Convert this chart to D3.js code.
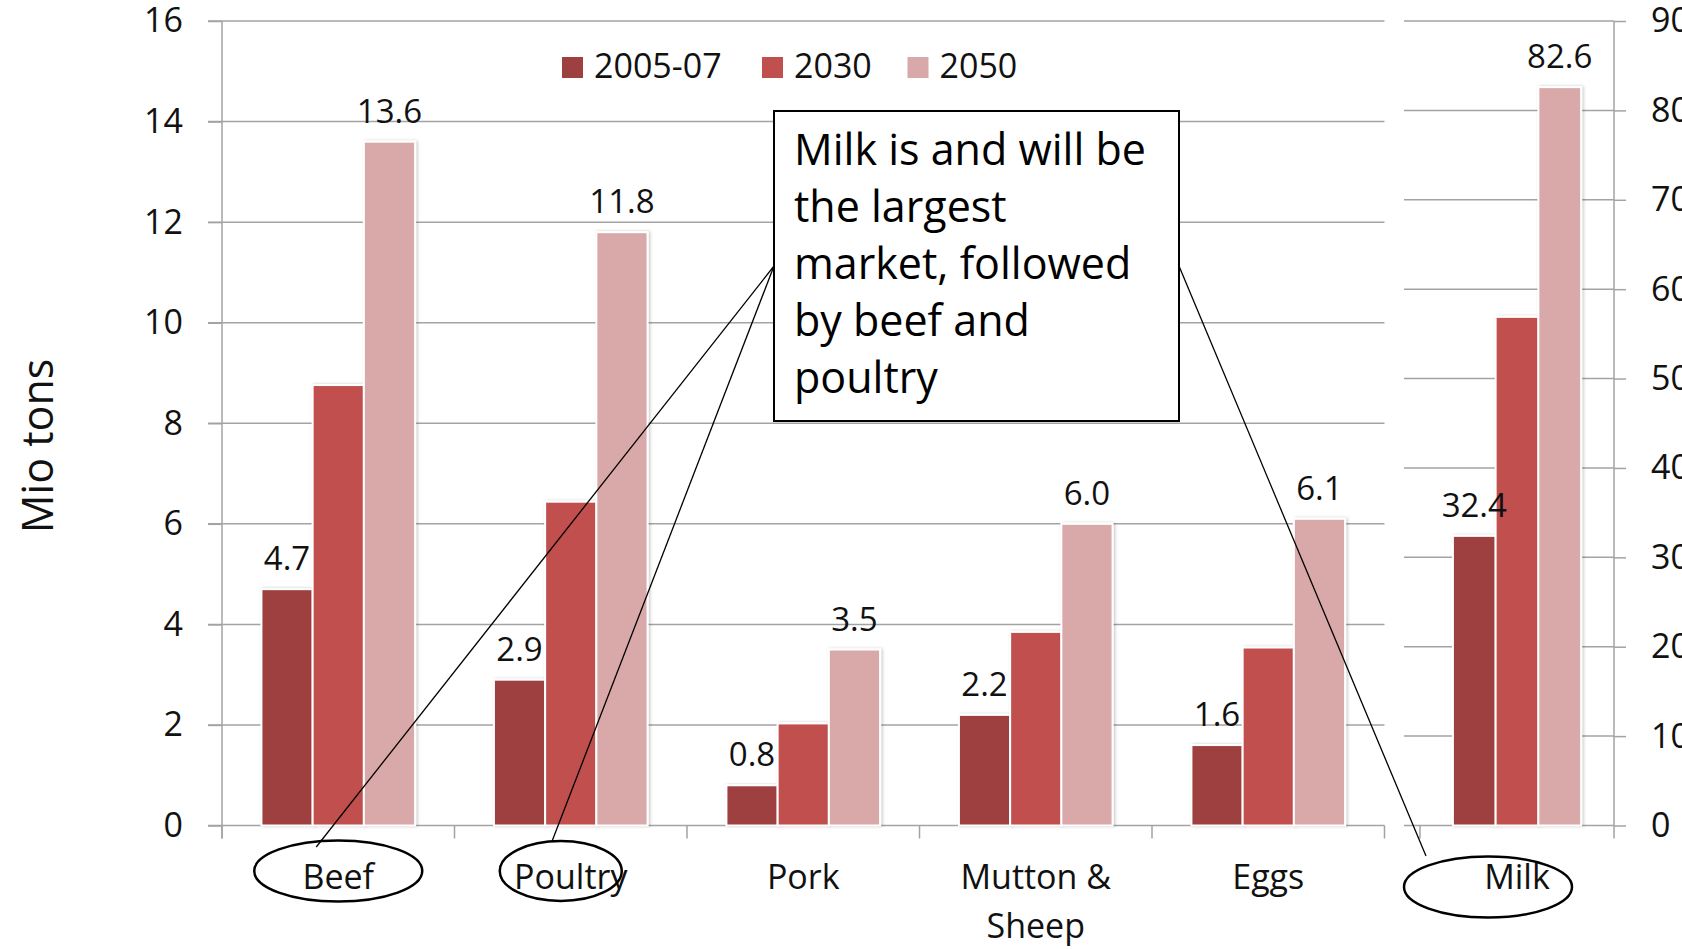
<!DOCTYPE html>
<html>
<head>
<meta charset="utf-8">
<script src="https://cdn.jsdelivr.net/npm/d3@7"></script>
<style>
  html, body { margin: 0; padding: 0; background: #fff; }
  svg { display: block; font-family: "Open Sans", sans-serif; }
</style>
</head>
<body>
<svg id="chart" width="1682" height="949"></svg>
<script>
/* Livestock product markets, Mio tons: meat and eggs on the left, milk on the right */

const categories = ["Beef", "Poultry", "Pork", "Mutton & Sheep", "Eggs"];
const categoryLines = [["Beef"], ["Poultry"], ["Pork"], ["Mutton &", "Sheep"], ["Eggs"]];
const milkCategory = ["Milk"];
const series = ["2005-07", "2030", "2050"];
const seriesColors = ["#9e4040", "#c0504d", "#d9a9a9"];

const values0507 = [4.7, 2.9, 0.8, 2.2, 1.6];
const values2030 = [8.76, 6.44, 2.03, 3.85, 3.54];
const values2050 = [13.6, 11.8, 3.5, 6.0, 6.1];
const milkValues = [32.4, 56.9, 82.6];

// only these series carry a value label
const labelledSeries = ["2005-07", "2050"];

const leftTicks = [0, 2, 4, 6, 8, 10, 12, 14, 16];
const rightTicks = [0, 10, 20, 30, 40, 50, 60, 70, 80, 90];

const note = ["Milk is and will be", "the largest", "market, followed", "by beef and", "poultry"];
// categories circled in the picture, with the ellipse shift and size
const circled = [
  {cat: "Beef", dx: 0, rx: 84, ry: 30.5, lineDx: -22, lineDy: -24},
  {cat: "Poultry", dx: -10, rx: 61, ry: 30, lineDx: -9, lineDy: -29},
  {cat: "Milk", dx: -29, rx: 84, ry: 30.5, lineDx: -62, lineDy: -31},
];

function main() {
  const svg = d3.select("#chart");
  const gridColor = "#a3a3a3";
  const base = 825.5;
  const top = 21;

  const y = d3.scaleLinear().domain([0, 16]).range([base, top]);
  const yR = d3.scaleLinear().domain([0, 90]).range([base, top]);

  const x0 = d3.scaleBand().domain(categories).range([222, 1384.5]).padding(0);
  const x0R = d3.scaleBand().domain(milkCategory).range([1420, 1614]).padding(0);
  const x1 = d3.scaleBand().domain(series).range([0, x0.bandwidth()])
    .paddingInner(0).paddingOuter(0.77);
  const x1R = d3.scaleBand().domain(series).range([0, x0R.bandwidth()])
    .paddingInner(0).paddingOuter(0.77);

  const defs = svg.append("defs");
  defs.append("filter").attr("id", "shadow")
    .attr("x", "-20%").attr("y", "-5%").attr("width", "140%").attr("height", "110%")
    .append("feDropShadow")
    .attr("dx", 1.5).attr("dy", 0).attr("stdDeviation", 1.6)
    .attr("flood-color", "#000").attr("flood-opacity", 0.22);

  // gridlines
  svg.append("g").selectAll("line").data(leftTicks).join("line")
    .attr("x1", 208).attr("x2", x0.range()[1])
    .attr("y1", (d) => y(d)).attr("y2", (d) => y(d))
    .attr("stroke", gridColor).attr("stroke-width", 1.5);
  svg.append("g").selectAll("line").data(rightTicks).join("line")
    .attr("x1", 1404).attr("x2", x0R.range()[1])
    .attr("y1", (d) => yR(d)).attr("y2", (d) => yR(d))
    .attr("stroke", gridColor).attr("stroke-width", 1.5);

  // left axis
  svg.append("g")
    .attr("transform", `translate(${x0.range()[0]},0)`)
    .call(d3.axisLeft(y).tickValues(leftTicks).tickSize(14).tickPadding(25))
    .call((g) => g.selectAll("line, path").attr("stroke", gridColor).attr("stroke-width", 1.5))
    .call((g) => g.select(".domain").attr("d", `M0,${top}V${base + 13}`))
    .call((g) => g.selectAll("text").attr("font-size", 34).attr("fill", "#111")
      .attr("font-family", "Open Sans"));

  // right axis
  svg.append("g")
    .attr("transform", `translate(${x0R.range()[1]},0)`)
    .call(d3.axisRight(yR).tickValues(rightTicks).tickSize(12).tickPadding(25))
    .call((g) => g.selectAll("line, path").attr("stroke", gridColor).attr("stroke-width", 1.5))
    .call((g) => g.select(".domain").attr("d", `M0,${top}V${base + 13}`))
    .call((g) => g.selectAll("text").attr("font-size", 34).attr("fill", "#111")
      .attr("font-family", "Open Sans"));

  // category boundary ticks on the bottom
  const boundaries = categories.map((c) => x0(c)).concat([x0.range()[1]]);
  svg.append("g").selectAll("line").data(boundaries).join("line")
    .attr("x1", (d) => d).attr("x2", (d) => d)
    .attr("y1", base).attr("y2", base + 13)
    .attr("stroke", gridColor).attr("stroke-width", 1.5);
  svg.append("line")
    .attr("x1", x0R.range()[0]).attr("x2", x0R.range()[0])
    .attr("y1", base).attr("y2", base + 13)
    .attr("stroke", gridColor).attr("stroke-width", 1.5);

  // bars
  const rows = categories.map((c, i) => ({
    cat: c, vals: [values0507[i], values2030[i], values2050[i]], x0: x0, x1: x1, y: y,
  }));
  rows.push({cat: milkCategory[0], vals: milkValues, x0: x0R, x1: x1R, y: yR});

  const barData = [];
  rows.forEach((r) => {
    series.forEach((s, j) => {
      barData.push({cat: r.cat, series: s, value: r.vals[j], j: j,
        x: r.x0(r.cat) + r.x1(s), w: r.x1.bandwidth(), y: r.y});
    });
  });

  svg.append("g").selectAll("rect").data(barData).join("rect")
    .attr("x", (d) => d.x)
    .attr("y", (d) => d.y(d.value))
    .attr("width", (d) => d.w)
    .attr("height", (d) => base - d.y(d.value))
    .attr("fill", (d) => seriesColors[d.j])
    .attr("stroke", "#fff").attr("stroke-width", 2)
    .attr("filter", "url(#shadow)");

  // value labels
  svg.append("g").selectAll("text")
    .data(barData.filter((d) => labelledSeries.includes(d.series)))
    .join("text")
    .attr("x", (d) => d.x + d.w / 2)
    .attr("y", (d) => d.y(d.value) - 19)
    .attr("text-anchor", "middle")
    .attr("font-size", 33).attr("fill", "#111")
    .text((d) => d3.format(".1f")(d.value));

  // category labels
  const catLabels = categories.map((c, i) => ({x: x0(c) + x0.bandwidth() / 2, lines: categoryLines[i]}));
  catLabels.push({x: x0R(milkCategory[0]) + x0R.bandwidth() / 2, lines: milkCategory});
  const cl = svg.append("g").selectAll("text").data(catLabels).join("text")
    .attr("text-anchor", "middle").attr("font-size", 34).attr("fill", "#111");
  cl.selectAll("tspan").data((d) => d.lines.map((l) => ({x: d.x, l: l}))).join("tspan")
    .attr("x", (d) => d.x)
    .attr("y", (d, i) => 889 + i * 49)
    .text((d) => d.l);

  // y axis title
  svg.append("text")
    .attr("transform", "translate(53,446) rotate(-90)")
    .attr("text-anchor", "middle")
    .attr("font-size", 43).attr("fill", "#111")
    .text("Mio tons");

  // legend
  const legendX = [562, 762, 907.5];
  const legend = svg.append("g").selectAll("g").data(series).join("g")
    .attr("transform", (d, i) => `translate(${legendX[i]},57)`);
  legend.append("rect")
    .attr("width", 21).attr("height", 21)
    .attr("fill", (d, i) => seriesColors[i]);
  legend.append("text")
    .attr("x", 32).attr("y", 21)
    .attr("font-size", 34).attr("fill", "#111")
    .text((d) => d);

  // callout: ellipses around categories and leader lines to the note box
  const box = {x: 774, y: 111, w: 405, h: 310};
  const midY = box.y + box.h / 2;
  circled.forEach((c) => {
    const isMilk = milkCategory.includes(c.cat);
    const sc = isMilk ? x0R : x0;
    const cx = sc(c.cat) + sc.bandwidth() / 2 + c.dx;
    const cy = isMilk ? 887 : 871;
    svg.append("ellipse")
      .attr("cx", cx).attr("cy", cy).attr("rx", c.rx).attr("ry", c.ry)
      .attr("fill", "none").attr("stroke", "#000").attr("stroke-width", 2.5);
    const sx = isMilk ? box.x + box.w : box.x;
    svg.append("line")
      .attr("x1", sx).attr("y1", midY)
      .attr("x2", cx + c.lineDx).attr("y2", cy + c.lineDy)
      .attr("stroke", "#000").attr("stroke-width", 1.3);
  });

  svg.append("rect")
    .attr("x", box.x).attr("y", box.y).attr("width", box.w).attr("height", box.h)
    .attr("fill", "#fff").attr("stroke", "#000").attr("stroke-width", 2);
  svg.append("text")
    .attr("font-size", 43).attr("fill", "#000")
    .selectAll("tspan").data(note).join("tspan")
    .attr("x", box.x + 20)
    .attr("y", (d, i) => 165 + i * 57)
    .text((d) => d);
}

window.onload = main;
</script>
</body>
</html>
